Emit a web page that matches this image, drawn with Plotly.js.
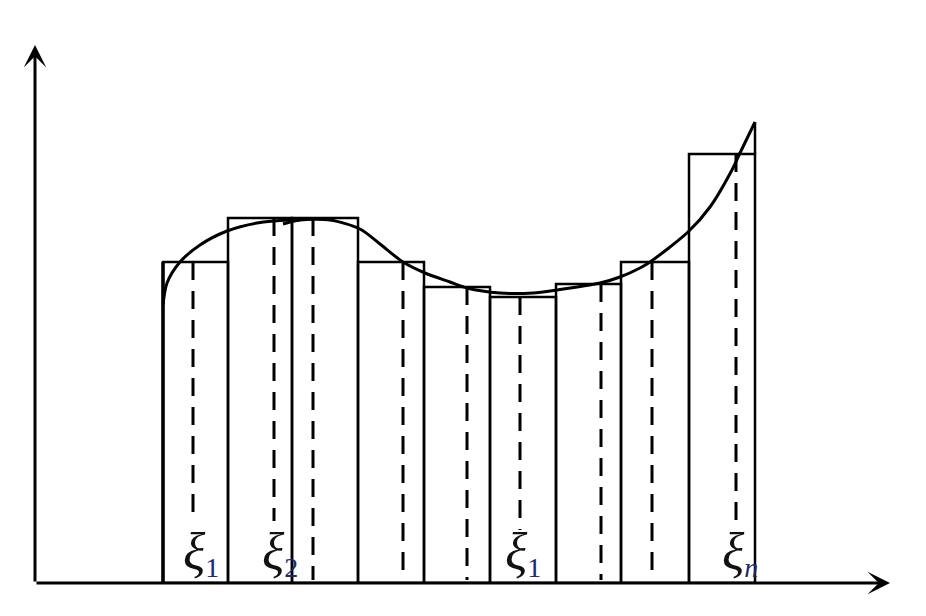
<!DOCTYPE html>
<html>
<head>
<meta charset="utf-8">
<script src="https://cdn.plot.ly/plotly-3.0.1.min.js"></script>
<style>
  html, body { margin: 0; padding: 0; background: #fff; }
  #chart { width: 926px; height: 616px; }
</style>
</head>
<body>
<div id="chart"></div>
<script>
// partition points a = x0 < x1 < ... < xn = b
const partition = [1.28, 1.93, 2.57, 3.23, 3.89, 4.55, 5.21, 5.86, 6.54, 7.20];
// height f(xi_i) of each rectangle
const heights = [3.21, 3.65, 3.65, 3.21, 2.96, 2.86, 2.99, 3.21, 4.29];
// sample points xi_i inside each subinterval
const samples = [1.58, 2.39, 2.78, 3.68, 4.32, 4.85, 5.66, 6.17, 7.01];
// where each dashed line stops (higher ones leave room for a label)
const sampleBottoms = [0.66, 0.62, 0.03, 0.03, 0.03, 0.53, 0.03, 0.03, 0.62];

// the curve y = f(x), drawn in two strokes like the original
const curveAx = [1.28, 1.32, 1.45, 1.65, 1.92, 2.22, 2.55, 2.65];
const curveAy = [2.78, 3.00, 3.21, 3.38, 3.52, 3.60, 3.63, 3.63];
const curveBx = [2.48, 2.65, 2.95, 3.25, 3.45, 3.68, 3.90, 4.15, 4.32, 4.65, 4.98,
                 5.22, 5.65, 5.85, 6.05, 6.15, 6.53, 6.75, 6.98, 7.05, 7.20];
const curveBy = [3.59, 3.63, 3.63, 3.54, 3.39, 3.21, 3.10, 3.01, 2.95, 2.90, 2.90,
                 2.93, 3.00, 3.06, 3.15, 3.21, 3.51, 3.76, 4.15, 4.30, 4.61];

// labels under some of the sample points
const labelX = [1.66, 2.45, 4.88, 7.05];
const labelText = ["1", "2", "1", "<i>n</i>"];

const xEnd = 8.55;   // x axis arrow tip
const yEnd = 5.38;   // y axis arrow tip

// rectangles as bars with explicit widths
const mids = [];
const widths = [];
for (let i = 0; i < heights.length; i++) {
  mids.push((partition[i] + partition[i + 1]) / 2);
  widths.push(partition[i + 1] - partition[i]);
}

const rects = {
  type: "bar",
  x: mids,
  y: heights,
  width: widths,
  base: 0,
  marker: { color: "rgba(0,0,0,0)", line: { color: "black", width: 2.5 } },
  hoverinfo: "skip",
};

// dashed verticals at the sample points
const dashX = [];
const dashY = [];
samples.forEach((s, i) => {
  dashX.push(s, s, null);
  dashY.push(heights[i], sampleBottoms[i], null);
});
const dashed = {
  type: "scatter",
  mode: "lines",
  x: dashX,
  y: dashY,
  line: { color: "black", width: 3, dash: "18px,11px" },
  hoverinfo: "skip",
};

const curveA = {
  type: "scatter",
  mode: "lines",
  x: curveAx,
  y: curveAy,
  line: { color: "black", width: 3, shape: "spline", smoothing: 0.8 },
  hoverinfo: "skip",
};
const curveB = {
  type: "scatter",
  mode: "lines",
  x: curveBx,
  y: curveBy,
  line: { color: "black", width: 3, shape: "spline", smoothing: 0.8 },
  hoverinfo: "skip",
};

// the edge x = b runs up to the curve end
const lastN = partition.length - 1;
const rightEdge = {
  type: "scatter",
  mode: "lines",
  x: [partition[lastN], partition[lastN]],
  y: [heights[heights.length - 1], curveBy[curveBy.length - 1]],
  line: { color: "black", width: 2.5 },
  hoverinfo: "skip",
};

// left edge x = a is drawn heavier in the original
const leftEdge = {
  type: "scatter",
  mode: "lines",
  x: [partition[0], partition[0]],
  y: [0, heights[0]],
  line: { color: "black", width: 3.5 },
  hoverinfo: "skip",
};

const annotations = [
  // axes drawn as arrows
  {
    x: xEnd, y: 0, ax: 0, ay: 0,
    xref: "x", yref: "y", axref: "x", ayref: "y",
    showarrow: true, arrowhead: 3, arrowsize: 1.25, arrowwidth: 3, arrowcolor: "black",
    text: "",
  },
  {
    x: 0, y: yEnd, ax: 0, ay: 0,
    xref: "x", yref: "y", axref: "x", ayref: "y",
    showarrow: true, arrowhead: 3, arrowsize: 1.25, arrowwidth: 3, arrowcolor: "black",
    text: "",
  },
];

labelX.forEach((lx, i) => {
  annotations.push({
    x: lx,
    y: 0.3,
    xref: "x",
    yref: "y",
    showarrow: false,
    text: "<span style='font-size:52px;font-style:italic'>ξ</span>" +
          "<sub><span style='color:#1c2a6e'>" + labelText[i] + "</span></sub>",
    font: { family: "Liberation Serif, serif", size: 40, color: "#111" },
  });
});

const layout = {
  width: 926,
  height: 616,
  margin: { l: 35, r: 0, t: 0, b: 33 },
  paper_bgcolor: "white",
  plot_bgcolor: "white",
  showlegend: false,
  xaxis: {
    range: [0, 8.91],
    showgrid: false, zeroline: false, showline: false,
    showticklabels: false, ticks: "", fixedrange: true,
  },
  yaxis: {
    range: [0, 5.83],
    showgrid: false, zeroline: false, showline: false,
    showticklabels: false, ticks: "", fixedrange: true,
  },
  annotations: annotations,
};

Plotly.newPlot("chart", [rects, dashed, rightEdge, leftEdge, curveA, curveB], layout, {
  staticPlot: true,
  displayModeBar: false,
});
</script>
</body>
</html>
